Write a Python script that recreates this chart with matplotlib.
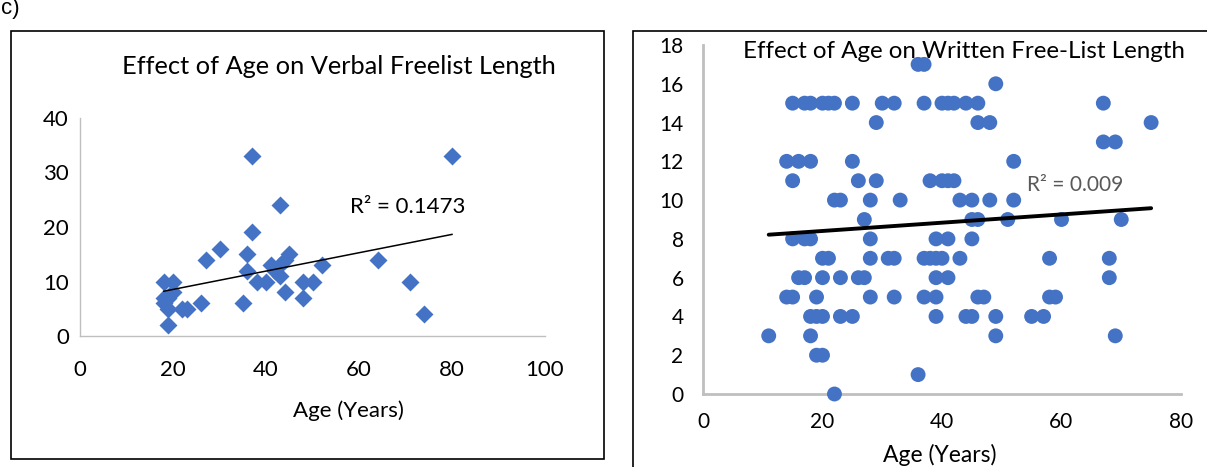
import matplotlib
matplotlib.use("Agg")
import matplotlib.pyplot as plt
import numpy as np
from matplotlib.patches import Rectangle

plt.rcParams['font.family'] = ['Lato', 'DejaVu Sans']

# Verbal freelist data (age, length)
verbal_age = [37, 80, 43, 37, 30, 27, 36, 45, 44, 41, 43, 52, 64, 36, 43, 38, 40, 48,
              50, 71, 44, 48, 35, 74, 18, 20, 18, 20, 18, 19, 22, 23, 26, 19, 19, 42]
verbal_len = [33, 33, 24, 19, 16, 14, 15, 15, 14, 13, 13, 13, 14, 12, 11, 10, 10, 10,
              10, 10, 8, 7, 6, 4, 10, 10, 7, 8, 6, 5, 5, 5, 6, 2, 7, 12]
verbal_r2_text = "R² = 0.1473"

# Written free-list data (age, length)
written_age = [36, 37,
               49,
               15, 17, 18, 20, 21, 22, 25, 30, 32, 37, 40, 41, 42, 44, 46, 67,
               29, 46, 48, 75,
               67, 69,
               14, 16, 18, 25, 52,
               15, 26, 29, 38, 40, 41, 42,
               22, 23, 28, 33, 43, 45, 48, 52,
               27, 45, 46, 51, 60, 70,
               15, 17, 18, 28, 39, 41, 45,
               20, 21, 28, 31, 32, 37, 38, 39, 40, 43, 58, 68,
               16, 17, 20, 23, 26, 27, 39, 41, 68,
               14, 15, 19, 28, 32, 37, 39, 46, 47, 58, 59,
               18, 19, 20, 23, 25, 39, 44, 45, 49, 55, 57,
               11, 18, 49, 69,
               19, 20,
               36,
               22]
written_len = [17, 17,
               16,
               15, 15, 15, 15, 15, 15, 15, 15, 15, 15, 15, 15, 15, 15, 15, 15,
               14, 14, 14, 14,
               13, 13,
               12, 12, 12, 12, 12,
               11, 11, 11, 11, 11, 11, 11,
               10, 10, 10, 10, 10, 10, 10, 10,
               9, 9, 9, 9, 9, 9,
               8, 8, 8, 8, 8, 8, 8,
               7, 7, 7, 7, 7, 7, 7, 7, 7, 7, 7, 7,
               6, 6, 6, 6, 6, 6, 6, 6, 6,
               5, 5, 5, 5, 5, 5, 5, 5, 5, 5, 5,
               4, 4, 4, 4, 4, 4, 4, 4, 4, 4, 4,
               3, 3, 3, 3,
               2, 2,
               1,
               0]
written_r2_text = "R² = 0.009"

left_xticks = [0, 20, 40, 60, 80, 100]
left_yticks = [0, 10, 20, 30, 40]
right_xticks = [0, 20, 40, 60, 80]
right_yticks = list(range(0, 19, 2))

BLUE = '#4472C4'
W, H = 1207, 467
fig = plt.figure(figsize=(W / 100, H / 100), dpi=100)

def fx(px):
    return px / W

def fy(py):
    return 1 - py / H

# frames
fig.patches.append(Rectangle((fx(11), fy(459)), fx(604) - fx(11), fy(31) - fy(459),
                             transform=fig.transFigure, fill=False, ec='black', lw=1.2))
fig.patches.append(Rectangle((fx(633), fy(480)), fx(1220) - fx(633), fy(31) - fy(480),
                             transform=fig.transFigure, fill=False, ec='black', lw=1.2,
                             clip_on=False))

fig.text(fx(1), fy(-2), "c)", ha='left', va='top', fontsize=16,
         family=['Liberation Sans', 'DejaVu Sans'])

# ---------------- Left panel ----------------
axL = fig.add_axes([fx(80), fy(336), fx(545) - fx(80), fy(118) - fy(336)])
axL.set_xlim(0, 100)
axL.set_ylim(0, 40)
axL.set_xticks(left_xticks)
axL.set_yticks(left_yticks)
for s in ['top', 'right']:
    axL.spines[s].set_visible(False)
for s in ['left', 'bottom']:
    axL.spines[s].set_color('#BFBFBF')
    axL.spines[s].set_linewidth(1.0)
axL.tick_params(axis='both', length=0, labelsize=16)
axL.tick_params(axis='x', pad=17)
axL.tick_params(axis='y', pad=8)
axL.plot(verbal_age, verbal_len, linestyle='none', marker='D', ms=9.5,
         color=BLUE, mec='none', clip_on=False, zorder=3)
m, b = np.polyfit(verbal_age, verbal_len, 1)
xs = np.array([min(verbal_age), max(verbal_age)])
axL.plot(xs, m * xs + b, color='black', lw=1.1, zorder=4)
axL.text(58, 23.6, verbal_r2_text, fontsize=16, color='black', ha='left', va='center')
fig.text(fx(339), fy(67), "Effect of Age on Verbal Freelist Length", ha='center',
         va='center', fontsize=18.3)
fig.text(fx(348), fy(411), "Age (Years)", ha='center', va='center', fontsize=16)

# ---------------- Right panel ----------------
axR = fig.add_axes([fx(703), fy(394), fx(1181) - fx(703), fy(45) - fy(394)])
axR.set_xlim(0, 80)
axR.set_ylim(0, 18)
axR.set_xticks(right_xticks)
axR.set_yticks(right_yticks)
for s in ['top', 'right']:
    axR.spines[s].set_visible(False)
for s in ['left', 'bottom']:
    axR.spines[s].set_color('#BFBFBF')
    axR.spines[s].set_linewidth(2.0)
axR.tick_params(axis='both', length=0, labelsize=15)
axR.tick_params(axis='x', pad=13)
axR.tick_params(axis='y', pad=14)
axR.scatter(written_age, written_len, s=115, color=BLUE, edgecolors='none',
            clip_on=False, zorder=3)
m2, b2 = np.polyfit(written_age, written_len, 1)
xs2 = np.array([min(written_age), max(written_age)])
axR.plot(xs2, m2 * xs2 + b2, color='black', lw=2.8, zorder=4, solid_capstyle='round')
axR.text(54.2, 10.8, written_r2_text, fontsize=15, color='#595959', ha='left', va='center')
fig.text(fx(964), fy(52), "Effect of Age on Written Free-List Length", ha='center',
         va='center', fontsize=17.4)
fig.text(fx(940), fy(455), "Age (Years)", ha='center', va='center', fontsize=16.5)

fig.savefig("out.png", dpi=100)
